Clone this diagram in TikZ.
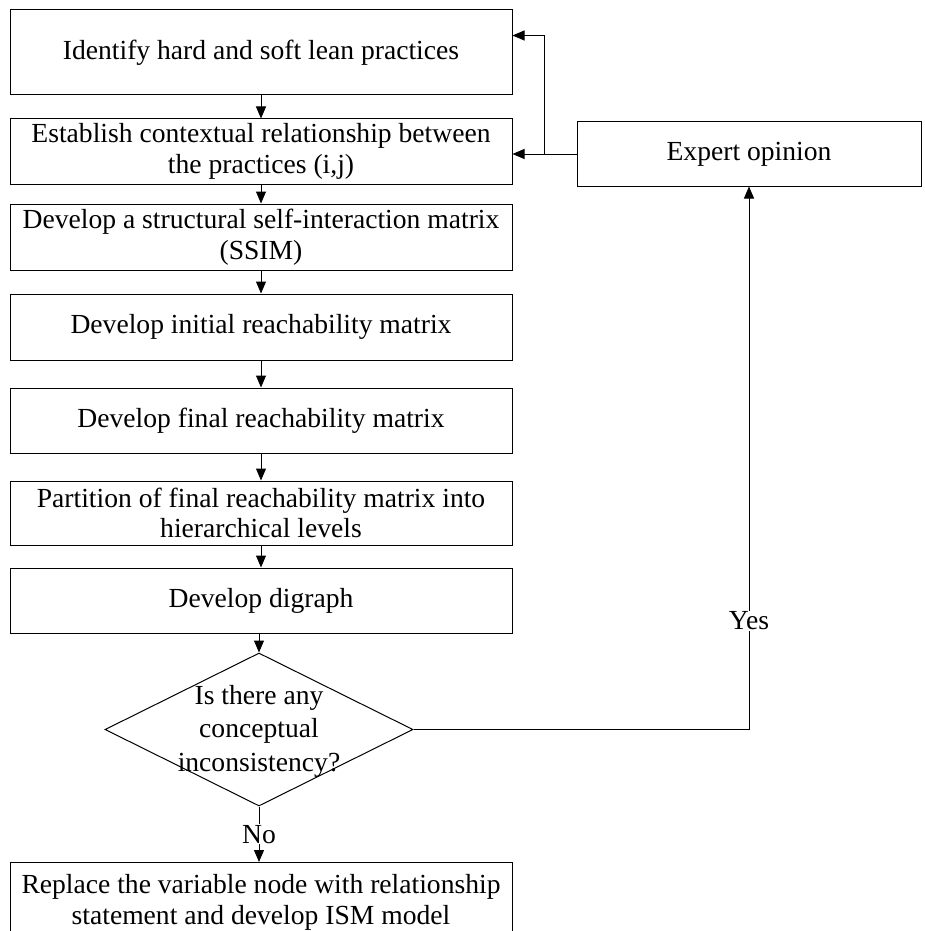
\documentclass[tikz,border=0pt]{standalone}
\usepackage{fontspec}
\setmainfont{Liberation Serif}
\usetikzlibrary{arrows.meta,shapes.geometric}

\tikzset{
  stepbox/.style={draw, line width=1pt, minimum width=502pt, inner sep=2pt,
    align=center, font=\fontsize{27.6}{30.5}\selectfont},
  decision/.style={draw, diamond, line width=1pt, minimum width=308pt,
    minimum height=153pt, inner sep=0pt},
  lbl/.style={font=\fontsize{27.6}{33.5}\selectfont, align=center},
  arr/.style={line width=1pt, -{Triangle[length=12pt,width=10pt]}},
  tag/.style={fill=white, inner sep=1pt, font=\fontsize{27.6}{30}\selectfont}
}

\begin{document}
\begin{tikzpicture}[x=1pt,y=-1pt]
  \clip (0,0) rectangle (924,931);

  % main sequence of steps
  \node[stepbox, minimum height=85pt] (b1) at (261,52.5)
    {Identify hard and soft lean practices};
  \node[stepbox, minimum height=65pt] (b2) at (261,151.5)
    {Establish contextual relationship between\\the practices (i,j)};
  \node[stepbox, minimum height=66pt] (b3) at (261,237)
    {Develop a structural self-interaction matrix\\(SSIM)};
  \node[stepbox, minimum height=66pt] (b4) at (261,327)
    {Develop initial reachability matrix};
  \node[stepbox, minimum height=65pt] (b5) at (261,420.5)
    {Develop final reachability matrix};
  \node[stepbox, minimum height=64pt] (b6) at (261,513)
    {Partition of final reachability matrix into\\hierarchical levels};
  \node[stepbox, minimum height=65pt] (b7) at (261,600.5)
    {Develop digraph};

  % decision
  \node[decision] (dec) at (259,729.5) {};
  \node[lbl] (dectext) at (259,731) {Is there any\\conceptual\\inconsistency?};

  % final step
  \node[stepbox, minimum height=80pt, anchor=north] (b8) at (261,862)
    {Replace the variable node with relationship\\statement and develop ISM model};

  % feedback source
  \node[stepbox, minimum width=344pt, minimum height=64pt] (exp) at (749,154)
    {Expert opinion};

  % forward arrows
  \draw[arr] (b1) -- (b2);
  \draw[arr] (b2) -- (b3);
  \draw[arr] (b3) -- (b4);
  \draw[arr] (b4) -- (b5);
  \draw[arr] (b5) -- (b6);
  \draw[arr] (b6) -- (b7);
  \draw[arr] (b7.south -| dec.north) -- (dec.north);
  \draw[arr] (dec.south) -- node[tag] {No} (dec.south |- b8.north);

  % expert feedback loop
  \coordinate (jn) at (544,154);
  \draw[arr] (exp.west) -- (exp.west -| b2.east);
  \draw[arr] (jn) |- ([yshift=-26pt]b1.north east);
  \draw[arr] (dec.east) -| node[tag, pos=0.6] {Yes} (exp.south);
\end{tikzpicture}
\end{document}
